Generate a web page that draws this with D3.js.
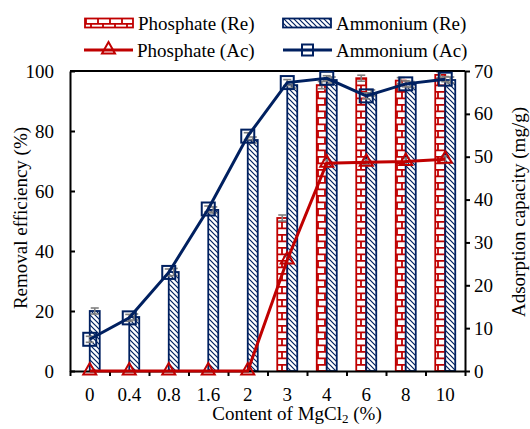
<!DOCTYPE html>
<html>
<head>
<meta charset="utf-8">
<script src="https://cdn.jsdelivr.net/npm/d3@7"></script>
<style>
  body { margin: 0; background: #fff; }
</style>
</head>
<body>
<div id="chart"></div>
<script>
// data
const categories = ["0", "0.4", "0.8", "1.6", "2", "3", "4", "6", "8", "10"];
const phosRe = [0, 0, 0, 0, 0, 51, 95.3, 97.6, 96.8, 98.7];   // removal efficiency %
const ammRe = [20, 18, 33, 53.7, 77, 95.3, 97, 92.7, 95.5, 97]; // removal efficiency %
const phosAc = [0, 0, 0, 0, 0, 25.9, 48.5, 48.7, 48.9, 49.4];  // mg/g
const ammAc = [7.4, 12.4, 23, 37.8, 54.8, 67.3, 68.3, 64.2, 67, 68.1]; // mg/g
const phosReErr = [0, 0, 0, 0, 0, 1, 1.2, 1, 1, 1];
const ammReErr = [1, 1, 1.2, 1, 1, 1, 1, 1, 1, 1];
const phosAcErr = [0, 0, 0, 0, 0, 0.8, 0.8, 0.6, 0.8, 0.8];
const ammAcErr = [0.7, 0.8, 0.8, 0.7, 0.8, 0.7, 0.6, 0.7, 0.7, 0.6];
const leftTicks = [0, 20, 40, 60, 80, 100];
const rightTicks = [0, 10, 20, 30, 40, 50, 60, 70];

const RED = "#c00000", NAVY = "#002060", GREY = "#7f7f7f";
const FONT = "'Liberation Serif', 'DejaVu Serif', serif";
const width = 530, height = 429;
const plot = { left: 70, right: 465, top: 71, bottom: 371 };

const svg = d3.select("#chart").append("svg")
    .attr("width", width)
    .attr("height", height)
    .style("font-family", FONT);

// fill patterns
const defs = svg.append("defs");
const brick = defs.append("pattern")
    .attr("id", "brick")
    .attr("patternUnits", "userSpaceOnUse")
    .attr("width", 12).attr("height", 13);
brick.append("rect").attr("width", 12).attr("height", 13).attr("fill", "#fff");
brick.append("path")
    .attr("d", "M0,0.8H12 M0,7.3H12 M6,0V7.3 M1,7.3V13")
    .attr("stroke", RED).attr("stroke-width", 1.8).attr("fill", "none");

const hatch = defs.append("pattern")
    .attr("id", "hatch")
    .attr("patternUnits", "userSpaceOnUse")
    .attr("width", 5).attr("height", 5);
hatch.append("rect").attr("width", 5).attr("height", 5).attr("fill", "#fff");
hatch.append("path")
    .attr("d", "M-1,-1L6,6 M-1,4L1,6 M4,-1L6,1")
    .attr("stroke", NAVY).attr("stroke-width", 1.2).attr("fill", "none");

// scales
const x = d3.scaleBand().domain(categories).range([plot.left, plot.right]);
const xEdge = d3.scaleLinear().domain([0, categories.length]).range([plot.left, plot.right]);
const bw = x.bandwidth();
const xSub = d3.scaleBand().domain(["p", "a"]).range([bw / 2 - 10, bw / 2 + 10]);
const yL = d3.scaleLinear().domain([0, 100]).range([plot.bottom, plot.top]);
const yR = d3.scaleLinear().domain([0, 70]).range([plot.bottom, plot.top]);
const cx = c => x(c) + bw / 2;

// bars
const rows = categories.map((c, i) => ({ c, pr: phosRe[i], ar: ammRe[i], pe: phosReErr[i], ae: ammReErr[i] }));
const barG = svg.append("g");
barG.selectAll(".bar-p")
    .data(rows.filter(d => d.pr > 0))
    .enter().append("rect")
    .attr("class", "bar-p")
    .attr("x", d => x(d.c) + xSub("p"))
    .attr("width", xSub.bandwidth())
    .attr("y", d => yL(d.pr))
    .attr("height", d => yL(0) - yL(d.pr))
    .attr("fill", "url(#brick)")
    .attr("stroke", RED).attr("stroke-width", 1.8);
barG.selectAll(".bar-a")
    .data(rows)
    .enter().append("rect")
    .attr("class", "bar-a")
    .attr("x", d => x(d.c) + xSub("a"))
    .attr("width", xSub.bandwidth())
    .attr("y", d => yL(d.ar))
    .attr("height", d => yL(0) - yL(d.ar))
    .attr("fill", "url(#hatch)")
    .attr("stroke", NAVY).attr("stroke-width", 1.8);

// error bars helper
function errBars(g, pts) {
    const e = g.selectAll(null).data(pts).enter().append("g")
        .attr("stroke", GREY).attr("stroke-width", 1.6);
    e.append("line")
        .attr("x1", d => d.x).attr("x2", d => d.x)
        .attr("y1", d => d.y1).attr("y2", d => d.y2);
    e.append("line")
        .attr("x1", d => d.x - 4).attr("x2", d => d.x + 4)
        .attr("y1", d => d.y1).attr("y2", d => d.y1);
    e.append("line")
        .attr("x1", d => d.x - 4).attr("x2", d => d.x + 4)
        .attr("y1", d => d.y2).attr("y2", d => d.y2);
}
const errG = svg.append("g");
errBars(errG, rows.filter(d => d.pr > 0).map(d => ({
    x: x(d.c) + xSub("p") + xSub.bandwidth() / 2,
    y1: yL(d.pr + d.pe), y2: yL(d.pr - d.pe)
})));
errBars(errG, rows.map(d => ({
    x: x(d.c) + xSub("a") + xSub.bandwidth() / 2,
    y1: yL(d.ar + d.ae), y2: yL(d.ar - d.ae)
})));
errBars(errG, categories.map((c, i) => ({ x: cx(c), y1: yR(ammAc[i] + ammAcErr[i]), y2: yR(ammAc[i] - ammAcErr[i]) })));
errBars(errG, categories.map((c, i) => ({ x: cx(c), y1: yR(phosAc[i] + phosAcErr[i]), y2: yR(phosAc[i] - phosAcErr[i]) }))
    .filter((d, i) => phosAc[i] > 0));

// axes
const axG = svg.append("g").attr("class", "axes");
const styleAxis = g => {
    g.attr("font-family", null).attr("font-size", null);
    g.selectAll("path, line").attr("stroke", "#000").attr("stroke-width", 2);
    g.selectAll("text").style("font-size", "19px").style("font-family", FONT).attr("fill", "#000");
};

axG.append("g")
    .attr("transform", `translate(0,${plot.bottom})`)
    .call(d3.axisBottom(xEdge).ticks(10).tickFormat("").tickSizeInner(5).tickSizeOuter(0))
    .call(styleAxis);
axG.append("g")
    .attr("transform", `translate(0,${plot.bottom})`)
    .call(d3.axisBottom(x).tickSize(0).tickPadding(17))
    .call(styleAxis)
    .call(g => g.select(".domain").remove());
axG.append("g")
    .attr("transform", `translate(${plot.left},0)`)
    .call(d3.axisLeft(yL).tickValues(leftTicks).tickSizeInner(-5).tickSizeOuter(0).tickPadding(16))
    .call(styleAxis);
axG.append("g")
    .attr("transform", `translate(${plot.right},0)`)
    .call(d3.axisRight(yR).tickValues(rightTicks).tickSizeInner(5).tickSizeOuter(0).tickPadding(4))
    .call(styleAxis);
axG.append("line")
    .attr("x1", plot.left).attr("x2", plot.right)
    .attr("y1", plot.top).attr("y2", plot.top)
    .attr("stroke", "#000").attr("stroke-width", 2);

// lines + markers
const triPath = "M0,-7L6.5,4.5L-6.5,4.5Z";
const line = d3.line().x(d => cx(d.c)).y(d => yR(d.v));
const phosPts = categories.map((c, i) => ({ c, v: phosAc[i] }));
const ammPts = categories.map((c, i) => ({ c, v: ammAc[i] }));

svg.append("path").datum(phosPts)
    .attr("d", line).attr("fill", "none")
    .attr("stroke", RED).attr("stroke-width", 3);
svg.append("g").selectAll("path").data(phosPts).enter().append("path")
    .attr("d", triPath)
    .attr("transform", d => `translate(${cx(d.c)},${yR(d.v) - 1})`)
    .attr("fill", "none").attr("stroke", RED).attr("stroke-width", 2);

svg.append("path").datum(ammPts)
    .attr("d", line).attr("fill", "none")
    .attr("stroke", NAVY).attr("stroke-width", 3);
svg.append("g").selectAll("rect").data(ammPts).enter().append("rect")
    .attr("x", d => cx(d.c) - 6.5).attr("y", d => yR(d.v) - 6.5)
    .attr("width", 13).attr("height", 13)
    .attr("fill", "none").attr("stroke", NAVY).attr("stroke-width", 2);

// axis titles
svg.append("text")
    .attr("transform", "translate(20,218) rotate(-90)")
    .attr("text-anchor", "middle").attr("dy", "0.35em")
    .style("font-size", "19px")
    .text("Removal efficiency (%)");
svg.append("text")
    .attr("transform", "translate(518,212) rotate(-90)")
    .attr("text-anchor", "middle").attr("dy", "0.35em")
    .style("font-size", "19px")
    .text("Adsorption capacity (mg/g)");
const xt = svg.append("text")
    .attr("x", 297).attr("y", 420)
    .attr("text-anchor", "middle")
    .style("font-size", "19px");
xt.append("tspan").text("Content of MgCl");
xt.append("tspan").style("font-size", "13px").attr("dy", 3).text("2");
xt.append("tspan").attr("dy", -3).text(" (%)");

// legend
const legend = svg.append("g");
const legItems = [
    { label: "Phosphate (Re)", x: 85, y: 23, type: "bar", fill: "url(#brick)", color: RED },
    { label: "Ammonium (Re)", x: 283, y: 23, type: "bar", fill: "url(#hatch)", color: NAVY },
    { label: "Phosphate (Ac)", x: 84, y: 50, type: "tri", color: RED },
    { label: "Ammonium (Ac)", x: 283, y: 50, type: "sq", color: NAVY }
];
legItems.forEach(it => {
    const g = legend.append("g").attr("transform", `translate(${it.x},${it.y})`);
    if (it.type === "bar") {
        g.append("rect").attr("x", 0).attr("y", -4.5).attr("width", 48).attr("height", 9)
            .attr("fill", it.fill).attr("stroke", it.color).attr("stroke-width", 1.8);
    } else {
        g.append("line").attr("x1", 0).attr("x2", 49).attr("y1", 0).attr("y2", 0)
            .attr("stroke", it.color).attr("stroke-width", 3);
        if (it.type === "tri") {
            g.append("path").attr("d", triPath).attr("transform", "translate(24.5,-1)")
                .attr("fill", "none").attr("stroke", it.color).attr("stroke-width", 2);
        } else {
            g.append("rect").attr("x", 19).attr("y", -5.5).attr("width", 11).attr("height", 11)
                .attr("fill", "none").attr("stroke", it.color).attr("stroke-width", 2);
        }
    }
    g.append("text").attr("x", 53).attr("dy", "0.35em").style("font-size", "19px").text(it.label);
});
</script>
</body>
</html>
